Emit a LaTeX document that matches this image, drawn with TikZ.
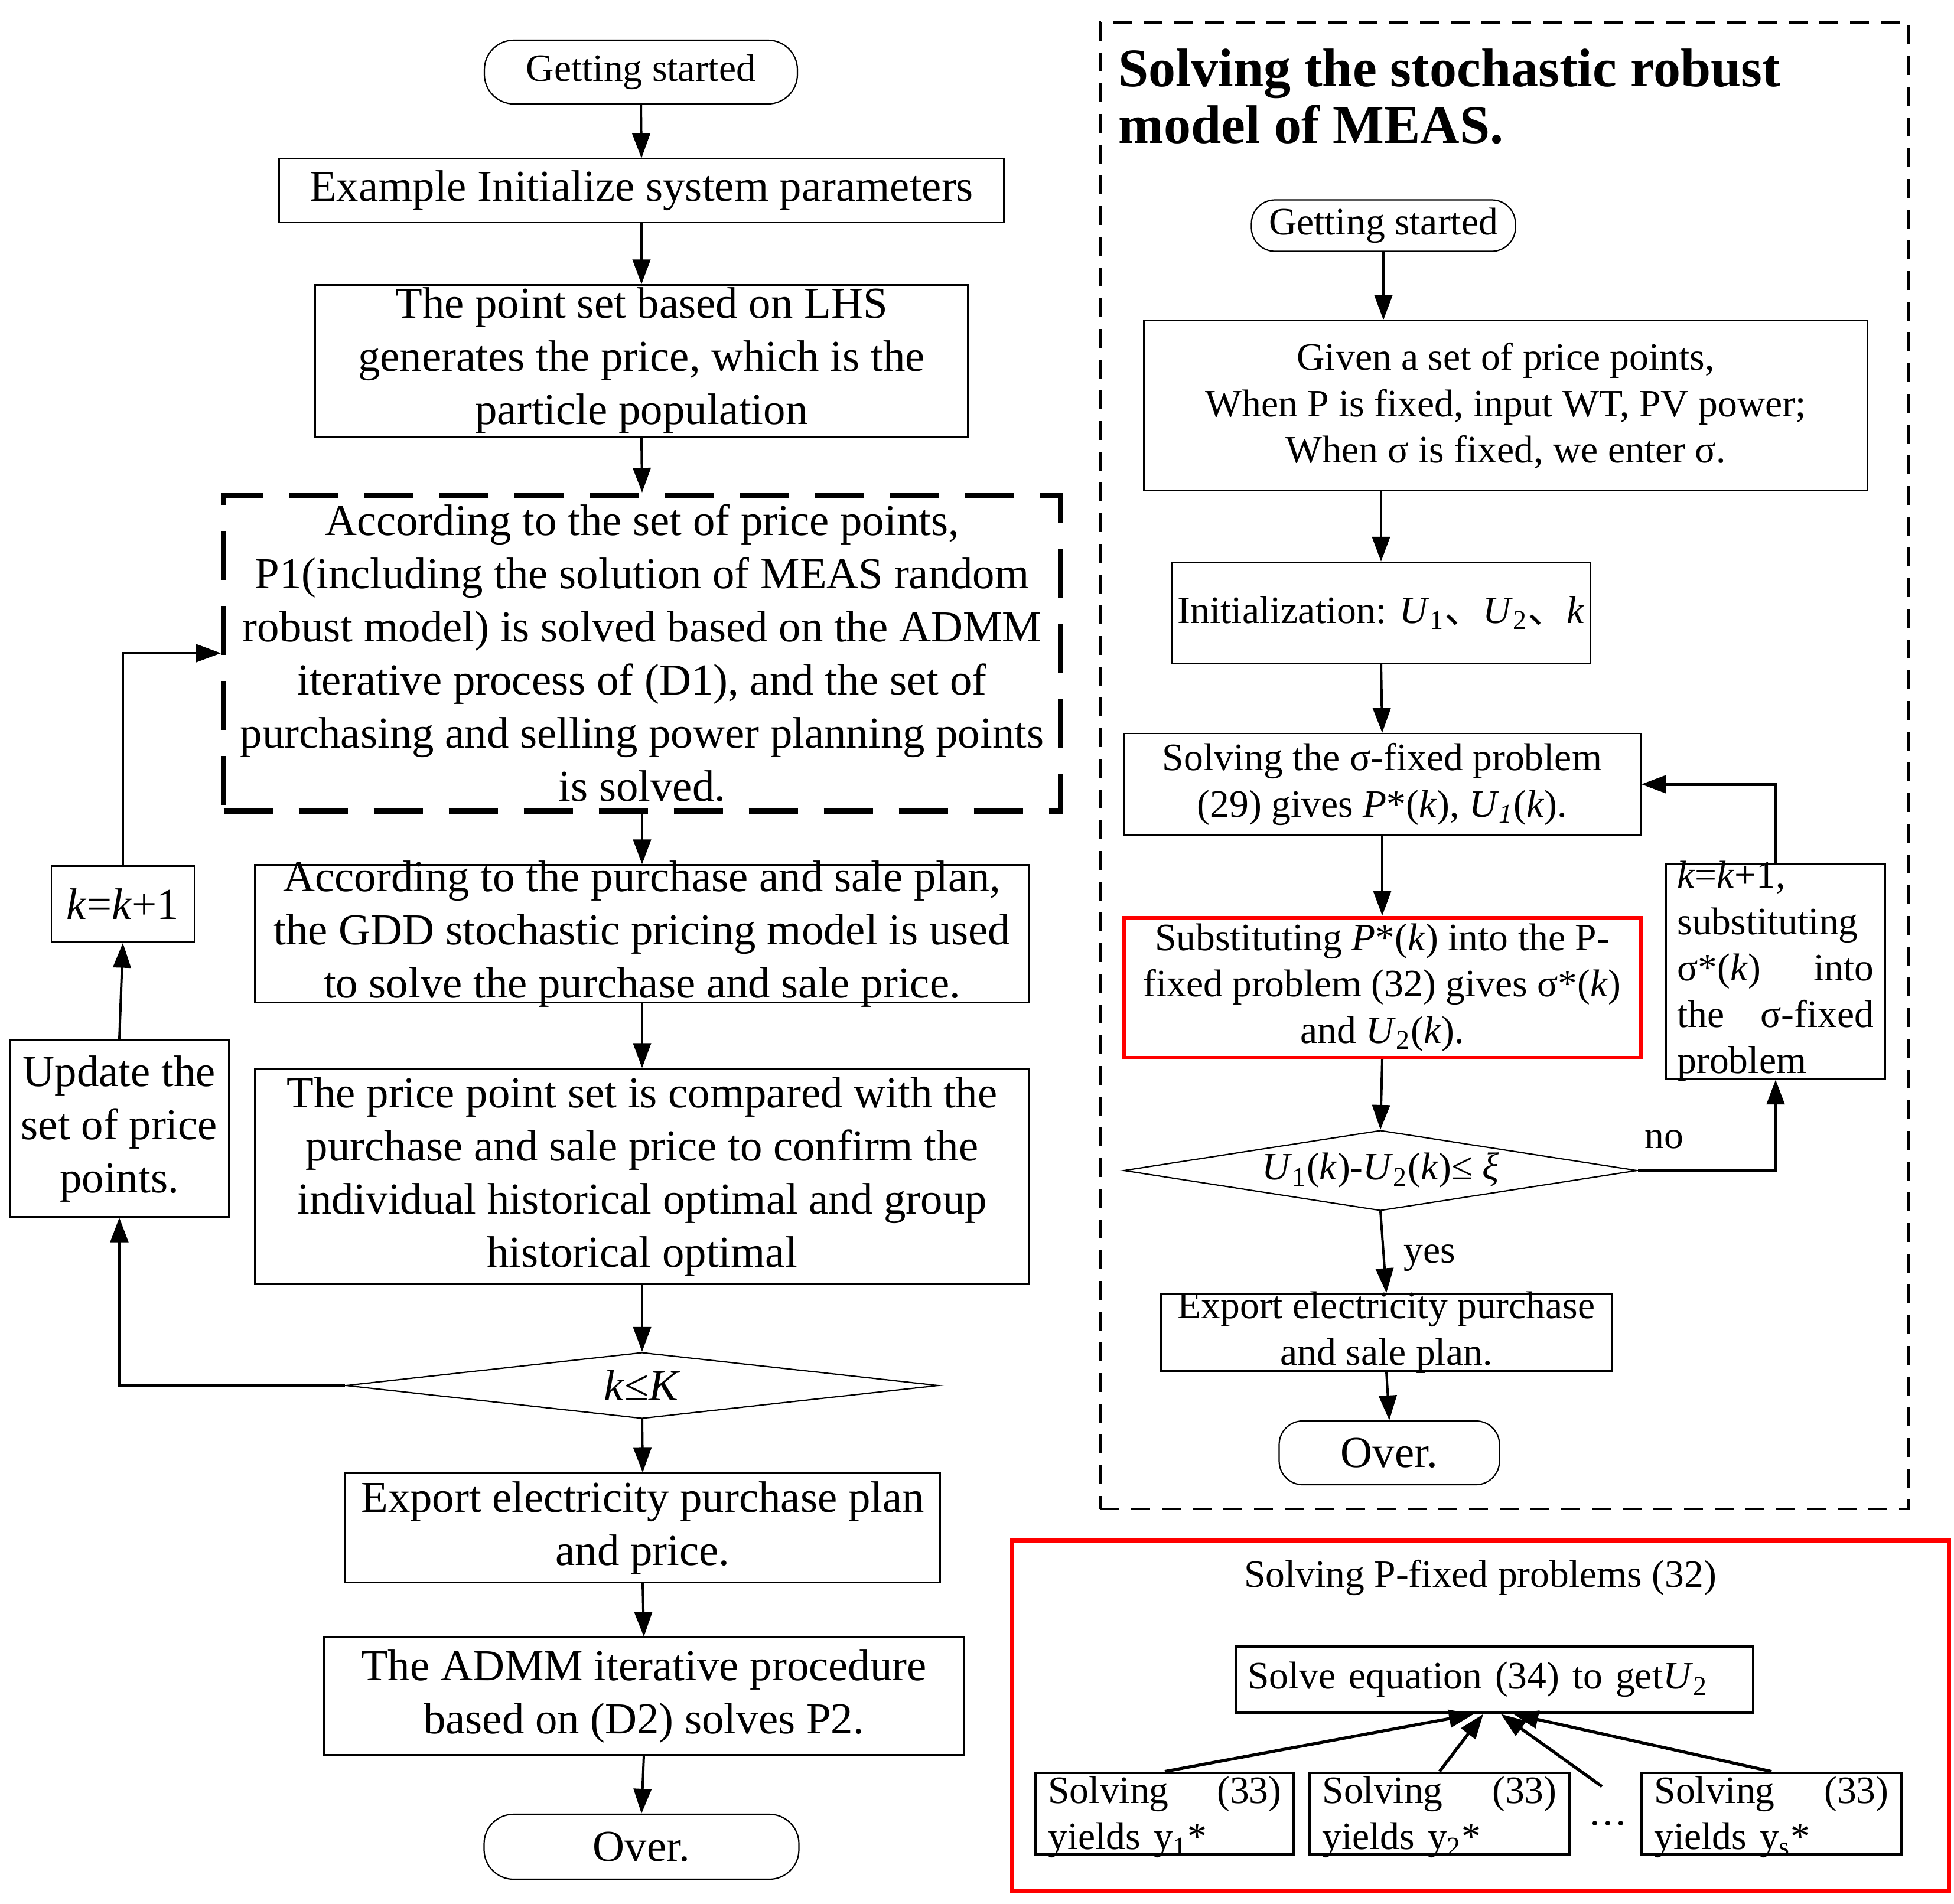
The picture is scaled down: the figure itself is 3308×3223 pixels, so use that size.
\documentclass[tikz,border=0pt]{standalone}
\usepackage{fontspec}
\setmainfont{Liberation Serif}
\newfontfamily\cjkfont{Noto Sans CJK SC}
\usetikzlibrary{arrows.meta,shapes.geometric}
\tikzset{
  sz/.style 2 args={minimum width={#1*0.25pt},minimum height={#2*0.25pt}},
  fL/.style={font=\fontsize{18.7pt}{22.5pt}\selectfont},
  fS/.style={font=\fontsize{16.4pt}{19.6pt}\selectfont},
  box/.style={draw,rectangle,line width=0.55pt,inner sep=0pt},
  term/.style={draw,rectangle,rounded corners=12.5pt,line width=0.55pt,inner sep=0pt},
  thickbox/.style={draw,rectangle,line width=1.2pt,inner sep=0pt},
  redbox/.style={draw=red,rectangle,line width=1.5pt,inner sep=0pt},
  dashL/.style={draw,rectangle,line width=2.2pt,dash pattern=on 20.75pt off 11pt,inner sep=0pt},
  dashR/.style={draw,rectangle,line width=1pt,dash pattern=on 8pt off 5pt,inner sep=0pt},
  dec/.style={draw,diamond,line width=0.55pt,inner sep=0pt},
  arr/.style={line width=1pt,-{Triangle[length=10.5pt,width=7.5pt]}},
  thickarr/.style={line width=1.3pt,-{Triangle[length=10.5pt,width=7.5pt]}},
  txtL/.style={fL,align=center,inner sep=0pt},
  txtS/.style={fS,align=center,inner sep=0pt},
}
\begin{document}
\begin{tikzpicture}[x=0.25pt,y=-0.25pt]
\useasboundingbox (0,0) rectangle (3308,3223);

% ---------------- left column ----------------
\node[term,sz={530}{108},fS] (gsL) at (1085,122) {Getting started};
\node[box,sz={1227}{108},fL] (ex) at (1086,323) {Example Initialize system parameters};
\node[box,sz={1105}{257},txtL] (lhs) at (1086,611) {The point set based on LHS\\generates the price, which is the\\particle population};
\node[dashL,sz={1417}{535},txtL] (adm) at (1087,1106) {According to the set of price points,\\P1(including the solution of MEAS random\\robust model) is solved based on the ADMM\\iterative process of (D1), and the set of\\purchasing and selling power planning points\\is solved.};
\node[box,sz={1311}{233},label={[txtL]center:{According to the purchase and sale plan,\\the GDD stochastic pricing model is used\\to solve the purchase and sale price.}}] (pur) at (1087,1581) {};
\node[box,sz={1311}{365},txtL] (prc) at (1087,1992) {The price point set is compared with the\\purchase and sale price to confirm the\\individual historical optimal and group\\historical optimal};
\node[dec,aspect=9,sz={1003}{112},label={[fL,inner sep=0pt]center:{\textit{k}≤\textit{K}}}] (dia) at (1087,2346) {};
\node[box,sz={1007}{185},txtL] (exL) at (1088,2587) {Export electricity purchase plan\\and price.};
\node[box,sz={1083}{199},txtL] (admm) at (1090,2872) {The ADMM iterative procedure\\based on (D2) solves P2.};
\node[term,sz={533}{110},fL] (ovL) at (1086,3127) {Over.};
\node[box,sz={242}{129},fL] (kk) at (208,1531) {\textit{k}=\textit{k}+1};
\node[box,sz={371}{299},txtL] (upd) at (202,1911) {Update the\\set of price\\points.};

\draw[arr] (gsL.south) -- (ex.north);
\draw[arr] (ex.south) -- (lhs.north);
\draw[arr] (lhs.south) -- (adm.north);
\draw[arr] (adm.south) -- (pur.north);
\draw[arr] (pur.south) -- (prc.north);
\draw[arr] (prc.south) -- (dia.north);
\draw[arr] (dia.south) -- (exL.north);
\draw[arr] (exL.south) -- (admm.north);
\draw[arr] (admm.south) -- (ovL.north);
\draw[thickarr] (dia.west) -| (upd.south);
\draw[arr] (upd.north) -- (kk.south);
\draw[arr] (kk.north) |- (adm.west);

% ---------------- right column ----------------
\node[dashR,sz={1368}{2517}] (frameR) at (2547,1296.5) {};
\node[anchor=north west,inner sep=0pt,align=left,font=\fontsize{23pt}{24pt}\selectfont\bfseries] (ttl) at (1893,82) {Solving the stochastic robust\\model of MEAS.};
\node[term,rounded corners=10pt,sz={447}{87},fS] (gsR) at (2342,382) {Getting started};
\node[box,sz={1225}{288},txtS] (giv) at (2549,687) {Given a set of price points,\\When P is fixed, input WT, PV power;\\When σ is fixed, we enter σ.};
\node[box,sz={708}{172},fS] (ini) at (2338,1038) {Initialization: \textit{U}\textsubscript{1}{\cjkfont 、}\textit{U}\textsubscript{2}{\cjkfont 、}\textit{k}};
\node[box,sz={875}{172},txtS] (sol) at (2340,1328) {Solving the σ-fixed problem\\(29) gives \textit{P}*(\textit{k}), \textit{U}\textsubscript{\textit{1}}(\textit{k}).};
\node[redbox,sz={875}{237},txtS] (sub) at (2340,1672) {Substituting \textit{P}*(\textit{k}) into the P-\\fixed problem (32) gives σ*(\textit{k})\\and \textit{U}\textsubscript{2}(\textit{k}).};
\node[dec,aspect=6.4,sz={869}{136},label={[fS,inner sep=0pt]center:{\textit{U}\textsubscript{1}(\textit{k})-\textit{U}\textsubscript{2}(\textit{k})≤ \textit{ξ}}}] (diaR) at (2337,1982) {};
\node[box,sz={371}{364},label={[fS,align=left,text width=83.25pt,inner sep=0pt]center:{\textit{k}=\textit{k}+1,\\substituting\\σ*(\textit{k})\hfill into\\the\hfill σ-fixed\\problem}}] (kR) at (3006,1645) {};
\node[box,sz={763}{131},label={[txtS]center:{Export electricity purchase\\and sale plan.}}] (exR) at (2347,2256) {};
\node[term,rounded corners=10pt,sz={373}{108},fL] (ovR) at (2352,2460) {Over.};
\node[fS,inner sep=0pt] (no) at (2817,1929) {no};
\node[fS,inner sep=0pt] (yes) at (2420,2130) {yes};

\draw[arr] (gsR.south) -- (gsR.south |- giv.north);
\draw[arr] (ini.north |- giv.south) -- (ini.north);
\draw[arr] (ini.south) -- (sol.north);
\draw[arr] (sol.south) -- (sub.north);
\draw[arr] (sub.south) -- (diaR.north);
\draw[arr] (diaR.south) -- (exR.north);
\draw[arr] (exR.south) -- (ovR.north);
\draw[thickarr] (diaR.east) -| (kR.south);
\draw[thickarr] (kR.north) |- (sol.east);

% ---------------- bottom red box ----------------
\node[draw=red,rectangle,line width=1.75pt,inner sep=0pt,sz={1586}{593}] (frameB) at (2506,2904.5) {};
\node[fS,inner sep=0pt] (ttlB) at (2506,2671) {Solving P-fixed problems (32)};
\node[thickbox,sz={876}{112},fS,align=left,text width=209pt] (seq) at (2530,2844) {Solve equation (34) to get\textit{U}\textsubscript{2}};
\node[thickbox,sz={437}{138},label={[fS,align=left,text width=98.75pt,inner sep=0pt,yshift=-1.5pt]center:{Solving\hfill (33)\\yields y\textsubscript{1}*}}] (s1) at (1972,3071) {};
\node[thickbox,sz={439}{138},label={[fS,align=left,text width=99.25pt,inner sep=0pt,yshift=-1.5pt]center:{Solving\hfill (33)\\yields y\textsubscript{2}*}}] (s2) at (2437,3071) {};
\node[thickbox,sz={439}{138},label={[fS,align=left,text width=99.25pt,inner sep=0pt,yshift=-1.5pt]center:{Solving\hfill (33)\\yields y\textsubscript{s}*}}] (s3) at (2999,3071) {};
\node[fS,inner sep=0pt] (dots) at (2722,3088) {…};
\coordinate (dtop) at (2712,3025);
\draw[thickarr] (s1.north) -- ([xshift=-8.75pt]seq.south);
\draw[thickarr] (s2.north) -- ([xshift=-4.75pt]seq.south);
\draw[thickarr] (dtop) -- ([xshift=2.75pt]seq.south);
\draw[thickarr] (s3.north) -- ([xshift=8pt]seq.south);
\end{tikzpicture}
\end{document}
